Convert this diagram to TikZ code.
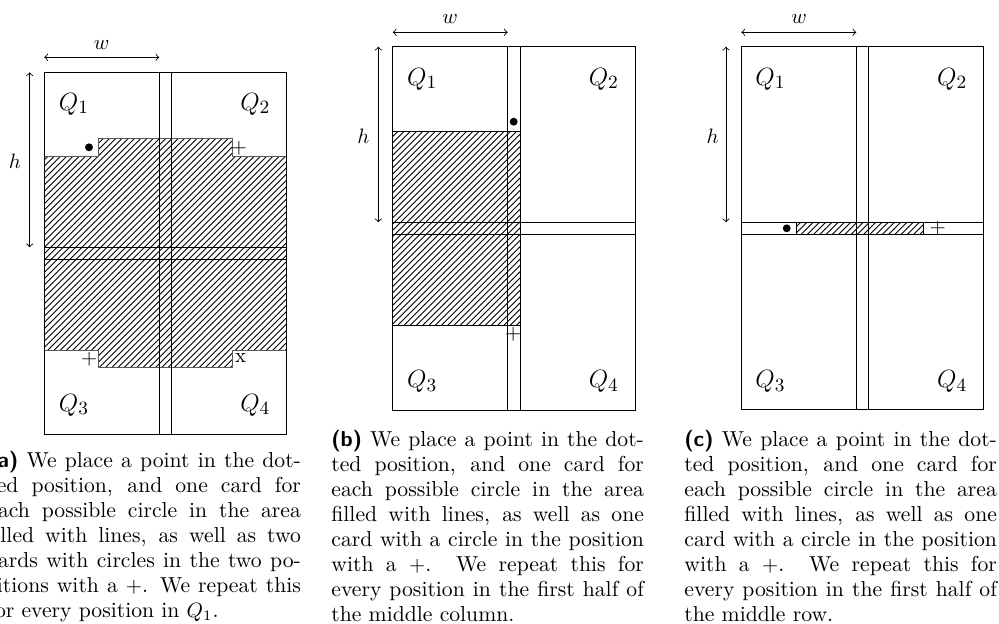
\documentclass[tikz,border=0pt]{standalone}
\usetikzlibrary{patterns}
\newlength{\capw}
\setlength{\capw}{150pt}
\newcommand{\jline}[1]{\makebox[\capw][s]{#1}}
\begin{document}
\begin{tikzpicture}[x=0.48pt,y=-0.48pt,
  frame/.style={line width=0.45pt},
  hatched/.style={pattern=north east lines, draw=black, line width=0.4pt},
  lbl/.style={inner sep=0},
  qlbl/.style={inner sep=0, font=\fontsize{12.8pt}{15pt}\selectfont},
  dimarrow/.style={<->, line width=0.4pt},
  dotmark/.style={circle, fill=black, inner sep=0, minimum size=3.8pt},
  capt/.style={anchor=base west, inner sep=0, font=\fontsize{10.4pt}{12pt}\selectfont}]
\useasboundingbox (0,0) rectangle (999,623);

% ---------------- Panel (a) ----------------
\fill[pattern=north east lines] (44.3,156.7) -- (98.7,156.7) -- (98.7,138.3) -- (232.3,138.3) -- (232.3,156.7) -- (286,156.7) -- (286,350) -- (232.3,350) -- (232.3,367.7) -- (98.7,367.7) -- (98.7,350) -- (44.3,350) -- cycle;
\draw[black!65, line width=0.4pt] (44.3,156.7) -- (98.7,156.7) -- (98.7,138.3) -- (232.3,138.3) -- (232.3,156.7) -- (286,156.7);
\draw[black!65, line width=0.4pt] (286,350) -- (232.3,350) -- (232.3,367.7) -- (98.7,367.7) -- (98.7,350) -- (44.3,350);
\draw[frame] (44.3,72.3) rectangle (286,434.7);
\draw[frame] (159.3,72.3) -- (159.3,434.7);
\draw[frame] (171.3,72.3) -- (171.3,434.7);
\draw[frame] (44.3,247.3) -- (286,247.3);
\draw[frame] (44.3,259.3) -- (286,259.3);
\coordinate (aw1) at (44.3,57.3);
\coordinate (aw2) at (159.3,57.3);
\coordinate (ah1) at (29.7,72.3);
\coordinate (ah2) at (29.7,247.3);
\draw[dimarrow] (aw1) -- (aw2);
\draw[dimarrow] (ah1) -- (ah2);
\node[lbl] (aw) at (101.7,45) {$w$};
\node[lbl] (ah) at (15,161.7) {$h$};
\node[qlbl] (aq1) at (74,104) {$Q_1$};
\node[qlbl] (aq2) at (255.3,104) {$Q_2$};
\node[qlbl] (aq3) at (74,405) {$Q_3$};
\node[qlbl] (aq4) at (255.3,405) {$Q_4$};
\node[dotmark] (adot) at (89,147.3) {};
\node[lbl] (aplus1) at (239,148.3) {$+$};
\node[lbl] (aplus2) at (89.3,359.3) {$+$};
\node[lbl] (ax) at (240.7,358.3) {x};

% ---------------- Panel (b) ----------------
\draw[hatched] (392.7,131.7) rectangle (520,325);
\draw[frame] (392.7,46.7) rectangle (635.3,410);
\draw[frame] (507.7,46.7) -- (507.7,410);
\draw[frame] (520,46.7) -- (520,410);
\draw[frame] (392.7,222.3) -- (635.3,222.3);
\draw[frame] (392.7,234.3) -- (635.3,234.3);
\coordinate (bw1) at (392.7,32.3);
\coordinate (bw2) at (507.7,32.3);
\coordinate (bh1) at (378.3,46.7);
\coordinate (bh2) at (378.3,222.3);
\draw[dimarrow] (bw1) -- (bw2);
\draw[dimarrow] (bh1) -- (bh2);
\node[lbl] (bw) at (450,19) {$w$};
\node[lbl] (bh) at (363.3,136.7) {$h$};
\node[qlbl] (bq1) at (422.2,79) {$Q_1$};
\node[qlbl] (bq2) at (603.8,79) {$Q_2$};
\node[qlbl] (bq3) at (422.2,381.7) {$Q_3$};
\node[qlbl] (bq4) at (603.8,381.7) {$Q_4$};
\node[dotmark] (bdot) at (513.7,121.7) {};
\node[lbl] (bplus) at (513.3,334.5) {$+$};

% ---------------- Panel (c) ----------------
\draw[hatched] (796,222.3) rectangle (923.3,234.3);
\draw[frame] (741.3,46.7) rectangle (983.7,409.3);
\draw[frame] (856.3,46.7) -- (856.3,409.3);
\draw[frame] (868.3,46.7) -- (868.3,409.3);
\draw[frame] (741.3,222.3) -- (983.7,222.3);
\draw[frame] (741.3,234.3) -- (983.7,234.3);
\coordinate (cw1) at (741.3,32.3);
\coordinate (cw2) at (856.3,32.3);
\coordinate (ch1) at (726,46.7);
\coordinate (ch2) at (726,222.3);
\draw[dimarrow] (cw1) -- (cw2);
\draw[dimarrow] (ch1) -- (ch2);
\node[lbl] (cw) at (799,19) {$w$};
\node[lbl] (ch) at (712.7,136.7) {$h$};
\node[qlbl] (cq1) at (770.5,79) {$Q_1$};
\node[qlbl] (cq2) at (952.2,79) {$Q_2$};
\node[qlbl] (cq3) at (770.5,381.7) {$Q_3$};
\node[qlbl] (cq4) at (952.2,381.7) {$Q_4$};
\node[dotmark] (cdot) at (786.7,228.3) {};
\node[lbl] (cplus) at (937.7,228.3) {$+$};

% ---------------- Captions ----------------
\node[capt] (capa) at (-12,467) {\parbox[t]{\capw}{%
\jline{\textsf{\textbf{(a)}} We place a point in the dot-}\\
\jline{ted position, and one card for}\\
\jline{each possible circle in the area}\\
\jline{filled with lines, as well as two}\\
\jline{cards with circles in the two po-}\\
\jline{sitions with a $+$. We repeat this}\\
for every position in $Q_1$.}};
\node[capt] (capb) at (331,446) {\parbox[t]{\capw}{%
\jline{\textsf{\textbf{(b)}} We place a point in the dot-}\\
\jline{ted position, and one card for}\\
\jline{each possible circle in the area}\\
\jline{filled with lines, as well as one}\\
\jline{card with a circle in the position}\\
\jline{with a $+$. We repeat this for}\\
\jline{every position in the first half of}\\
the middle column.}};
\node[capt] (capc) at (684,446) {\parbox[t]{\capw}{%
\jline{\textsf{\textbf{(c)}} We place a point in the dot-}\\
\jline{ted position, and one card for}\\
\jline{each possible circle in the area}\\
\jline{filled with lines, as well as one}\\
\jline{card with a circle in the position}\\
\jline{with a $+$. We repeat this for}\\
\jline{every position in the first half of}\\
the middle row.}};
\end{tikzpicture}
\end{document}
